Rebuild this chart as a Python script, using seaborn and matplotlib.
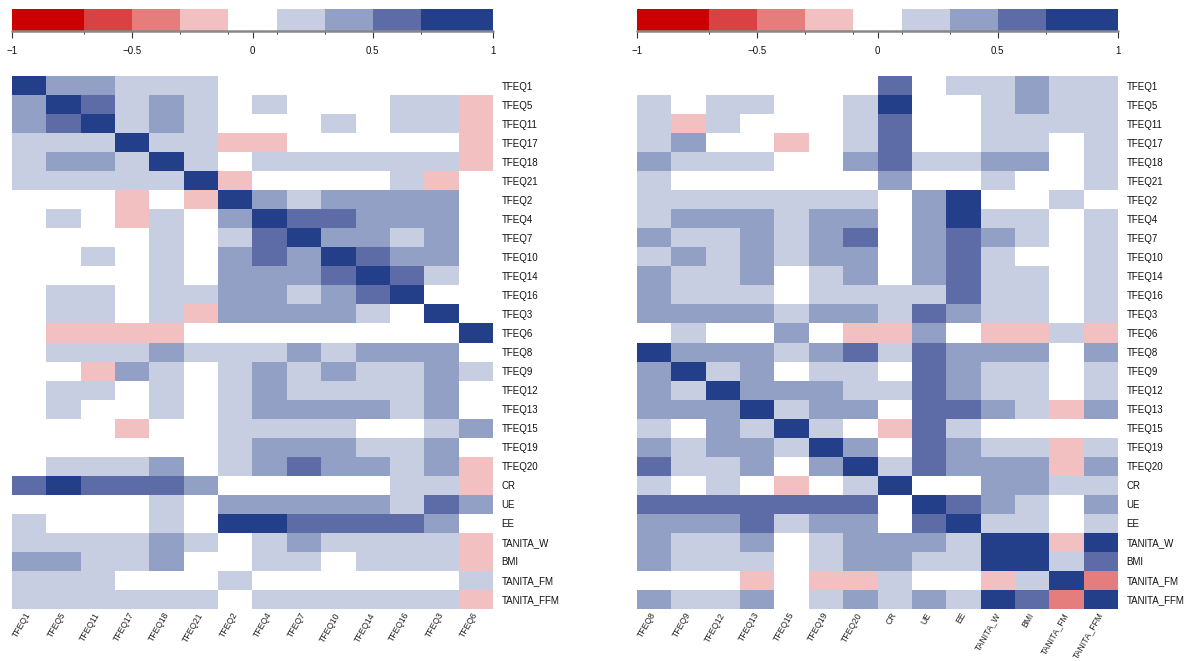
import numpy as np
import pandas as pd
import matplotlib
matplotlib.use("Agg")
import matplotlib.pyplot as plt
from matplotlib.colors import ListedColormap, BoundaryNorm
import seaborn as sns

row_labels = ["TFEQ1", "TFEQ5", "TFEQ11", "TFEQ17", "TFEQ18", "TFEQ21", "TFEQ2", "TFEQ4",
              "TFEQ7", "TFEQ10", "TFEQ14", "TFEQ16", "TFEQ3", "TFEQ6", "TFEQ8", "TFEQ9",
              "TFEQ12", "TFEQ13", "TFEQ15", "TFEQ19", "TFEQ20", "CR", "UE", "EE",
              "TANITA_W", "BMI", "TANITA_FM", "TANITA_FFM"]

left_cols = ["TFEQ1", "TFEQ5", "TFEQ11", "TFEQ17", "TFEQ18", "TFEQ21", "TFEQ2", "TFEQ4",
             "TFEQ7", "TFEQ10", "TFEQ14", "TFEQ16", "TFEQ3", "TFEQ6"]

right_cols = ["TFEQ8", "TFEQ9", "TFEQ12", "TFEQ13", "TFEQ15", "TFEQ19", "TFEQ20", "CR",
              "UE", "EE", "TANITA_W", "BMI", "TANITA_FM", "TANITA_FFM"]

left_values = [
    [0.85, 0.4, 0.4, 0.2, 0.2, 0.2, 0, 0, 0, 0, 0, 0, 0, 0],
    [0.4, 0.85, 0.6, 0.2, 0.4, 0.2, 0, 0.2, 0, 0, 0, 0.2, 0.2, -0.2],
    [0.4, 0.6, 0.85, 0.2, 0.4, 0.2, 0, 0, 0, 0.2, 0, 0.2, 0.2, -0.2],
    [0.2, 0.2, 0.2, 0.85, 0.2, 0.2, -0.2, -0.2, 0, 0, 0, 0, 0, -0.2],
    [0.2, 0.4, 0.4, 0.2, 0.85, 0.2, 0, 0.2, 0.2, 0.2, 0.2, 0.2, 0.2, -0.2],
    [0.2, 0.2, 0.2, 0.2, 0.2, 0.85, -0.2, 0, 0, 0, 0, 0.2, -0.2, 0],
    [0, 0, 0, -0.2, 0, -0.2, 0.85, 0.4, 0.2, 0.4, 0.4, 0.4, 0.4, 0],
    [0, 0.2, 0, -0.2, 0.2, 0, 0.4, 0.85, 0.6, 0.6, 0.4, 0.4, 0.4, 0],
    [0, 0, 0, 0, 0.2, 0, 0.2, 0.6, 0.85, 0.4, 0.4, 0.2, 0.4, 0],
    [0, 0, 0.2, 0, 0.2, 0, 0.4, 0.6, 0.4, 0.85, 0.6, 0.4, 0.4, 0],
    [0, 0, 0, 0, 0.2, 0, 0.4, 0.4, 0.4, 0.6, 0.85, 0.6, 0.2, 0],
    [0, 0.2, 0.2, 0, 0.2, 0.2, 0.4, 0.4, 0.2, 0.4, 0.6, 0.85, 0, 0],
    [0, 0.2, 0.2, 0, 0.2, -0.2, 0.4, 0.4, 0.4, 0.4, 0.2, 0, 0.85, 0],
    [0, -0.2, -0.2, -0.2, -0.2, 0, 0, 0, 0, 0, 0, 0, 0, 0.85],
    [0, 0.2, 0.2, 0.2, 0.4, 0.2, 0.2, 0.2, 0.4, 0.2, 0.4, 0.4, 0.4, 0],
    [0, 0, -0.2, 0.4, 0.2, 0, 0.2, 0.4, 0.2, 0.4, 0.2, 0.2, 0.4, 0.2],
    [0, 0.2, 0.2, 0, 0.2, 0, 0.2, 0.4, 0.2, 0.2, 0.2, 0.2, 0.4, 0],
    [0, 0.2, 0, 0, 0.2, 0, 0.2, 0.4, 0.4, 0.4, 0.4, 0.2, 0.4, 0],
    [0, 0, 0, -0.2, 0, 0, 0.2, 0.2, 0.2, 0.2, 0, 0, 0.2, 0.4],
    [0, 0, 0, 0, 0, 0, 0.2, 0.4, 0.4, 0.4, 0.2, 0.2, 0.4, 0],
    [0, 0.2, 0.2, 0.2, 0.4, 0, 0.2, 0.4, 0.6, 0.4, 0.4, 0.2, 0.4, -0.2],
    [0.6, 0.85, 0.6, 0.6, 0.6, 0.4, 0, 0, 0, 0, 0, 0.2, 0.2, -0.2],
    [0, 0, 0, 0, 0.2, 0, 0.4, 0.4, 0.4, 0.4, 0.4, 0.2, 0.6, 0.4],
    [0.2, 0, 0, 0, 0.2, 0, 0.85, 0.85, 0.6, 0.6, 0.6, 0.6, 0.4, 0],
    [0.2, 0.2, 0.2, 0.2, 0.4, 0.2, 0, 0.2, 0.4, 0.2, 0.2, 0.2, 0.2, -0.2],
    [0.4, 0.4, 0.2, 0.2, 0.4, 0, 0, 0.2, 0.2, 0, 0.2, 0.2, 0.2, -0.2],
    [0.2, 0.2, 0.2, 0, 0, 0, 0.2, 0, 0, 0, 0, 0, 0, 0.2],
    [0.2, 0.2, 0.2, 0.2, 0.2, 0.2, 0, 0.2, 0.2, 0.2, 0.2, 0.2, 0.2, -0.2],
]

right_values = [
    [0, 0, 0, 0, 0, 0, 0, 0.6, 0, 0.2, 0.2, 0.4, 0.2, 0.2],
    [0.2, 0, 0.2, 0.2, 0, 0, 0.2, 0.85, 0, 0, 0.2, 0.4, 0.2, 0.2],
    [0.2, -0.2, 0.2, 0, 0, 0, 0.2, 0.6, 0, 0, 0.2, 0.2, 0.2, 0.2],
    [0.2, 0.4, 0, 0, -0.2, 0, 0.2, 0.6, 0, 0, 0.2, 0.2, 0, 0.2],
    [0.4, 0.2, 0.2, 0.2, 0, 0, 0.4, 0.6, 0.2, 0.2, 0.4, 0.4, 0, 0.2],
    [0.2, 0, 0, 0, 0, 0, 0, 0.4, 0, 0, 0.2, 0, 0, 0.2],
    [0.2, 0.2, 0.2, 0.2, 0.2, 0.2, 0.2, 0, 0.4, 0.85, 0, 0, 0.2, 0],
    [0.2, 0.4, 0.4, 0.4, 0.2, 0.4, 0.4, 0, 0.4, 0.85, 0.2, 0.2, 0, 0.2],
    [0.4, 0.2, 0.2, 0.4, 0.2, 0.4, 0.6, 0, 0.4, 0.6, 0.4, 0.2, 0, 0.2],
    [0.2, 0.4, 0.2, 0.4, 0.2, 0.4, 0.4, 0, 0.4, 0.6, 0.2, 0, 0, 0.2],
    [0.4, 0.2, 0.2, 0.4, 0, 0.2, 0.4, 0, 0.4, 0.6, 0.2, 0.2, 0, 0.2],
    [0.4, 0.2, 0.2, 0.2, 0, 0.2, 0.2, 0.2, 0.2, 0.6, 0.2, 0.2, 0, 0.2],
    [0.4, 0.4, 0.4, 0.4, 0.2, 0.4, 0.4, 0.2, 0.6, 0.4, 0.2, 0.2, 0, 0.2],
    [0, 0.2, 0, 0, 0.4, 0, -0.2, -0.2, 0.4, 0, -0.2, -0.2, 0.2, -0.2],
    [0.85, 0.4, 0.4, 0.4, 0.2, 0.4, 0.6, 0.2, 0.6, 0.4, 0.4, 0.4, 0, 0.4],
    [0.4, 0.85, 0.2, 0.4, 0, 0.2, 0.2, 0, 0.6, 0.4, 0.2, 0.2, 0, 0.2],
    [0.4, 0.2, 0.85, 0.4, 0.4, 0.4, 0.2, 0.2, 0.6, 0.4, 0.2, 0.2, 0, 0.2],
    [0.4, 0.4, 0.4, 0.85, 0.2, 0.4, 0.4, 0, 0.6, 0.6, 0.4, 0.2, -0.2, 0.4],
    [0.2, 0, 0.4, 0.2, 0.85, 0.2, 0, -0.2, 0.6, 0.2, 0, 0, 0, 0],
    [0.4, 0.2, 0.4, 0.4, 0.2, 0.85, 0.4, 0, 0.6, 0.4, 0.2, 0.2, -0.2, 0.2],
    [0.6, 0.2, 0.2, 0.4, 0, 0.4, 0.85, 0.2, 0.6, 0.4, 0.4, 0.4, -0.2, 0.4],
    [0.2, 0, 0.2, 0, -0.2, 0, 0.2, 0.85, 0, 0, 0.4, 0.4, 0.2, 0.2],
    [0.6, 0.6, 0.6, 0.6, 0.6, 0.6, 0.6, 0, 0.85, 0.6, 0.4, 0.2, 0, 0.4],
    [0.4, 0.4, 0.4, 0.6, 0.2, 0.4, 0.4, 0, 0.6, 0.85, 0.2, 0.2, 0, 0.2],
    [0.4, 0.2, 0.2, 0.4, 0, 0.2, 0.4, 0.4, 0.4, 0.2, 0.85, 0.85, -0.2, 0.85],
    [0.4, 0.2, 0.2, 0.2, 0, 0.2, 0.4, 0.4, 0.2, 0.2, 0.85, 0.85, 0.2, 0.6],
    [0, 0, 0, -0.2, 0, -0.2, -0.2, 0.2, 0, 0, -0.2, 0.2, 0.85, -0.4],
    [0.4, 0.2, 0.2, 0.4, 0, 0.2, 0.4, 0.2, 0.4, 0.2, 0.85, 0.6, -0.4, 0.85],
]

bin_edges = [-1, -0.7, -0.5, -0.3, -0.1, 0.1, 0.3, 0.5, 0.7, 1]
bin_colors = ["#CC0000", "#D94242", "#E67D7D", "#F2C0C0", "#FFFFFF",
              "#C8CEE2", "#93A0C6", "#5D6CA7", "#243F8A"]
cbar_ticks = [-1, -0.5, 0, 0.5, 1]

sns.set_style("white")
plt.rcParams["font.family"] = ["Liberation Sans", "DejaVu Sans"]

cmap = ListedColormap(bin_colors)
norm = BoundaryNorm(bin_edges, cmap.N)

W, H = 1184, 661
fig = plt.figure(figsize=(W / 100, H / 100), dpi=100)


def panel(x0, values, cols):
    ax = fig.add_axes([x0 / W, 1 - 609 / H, 481 / W, 533 / H])
    cax = fig.add_axes([x0 / W, 1 - 31 / H, 481 / W, 22 / H])
    df = pd.DataFrame(values, index=row_labels, columns=cols)
    sns.heatmap(df, ax=ax, cmap=cmap, norm=norm, cbar=True, cbar_ax=cax,
                cbar_kws=dict(orientation="horizontal", ticks=cbar_ticks,
                              spacing="proportional"),
                xticklabels=cols, yticklabels=row_labels, linewidths=0)
    ax.yaxis.tick_right()
    ax.tick_params(axis="y", length=0, labelsize=7, rotation=0, pad=6, labelcolor="#111111")
    ax.tick_params(axis="x", length=0, labelsize=6.2, pad=3, labelcolor="#222222")
    for lab in ax.get_xticklabels():
        lab.set_rotation(60)
        lab.set_ha("right")
        lab.set_va("center")
        lab.set_rotation_mode("anchor")
    cbar = ax.collections[0].colorbar
    cbar.outline.set_visible(False)
    cax.axhline(0, color="#888888", lw=1.8, clip_on=False)
    cax.tick_params(axis="x", length=5, width=0.8, color="#333333", labelsize=7,
                    pad=6, labelcolor="#111111")
    cax.set_xticklabels(["\u22121", "\u22120.5", "0", "0.5", "1"])
    zero_tick = cax.xaxis.get_major_ticks()[2]
    zero_tick.tick1line.set_color("#888888")
    return ax


panel(12, left_values, left_cols)
panel(637, right_values, right_cols)

fig.savefig("out.png", dpi=100)
